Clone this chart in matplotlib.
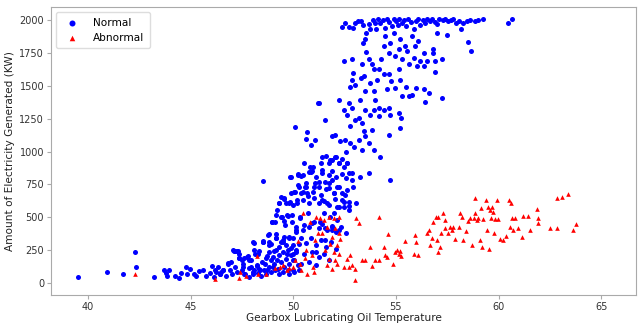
import numpy as np
import matplotlib
matplotlib.use("Agg")
import matplotlib.pyplot as plt

# Normal readings: gearbox oil temperature / generated power
normal_temp = [
    39.53, 40.95, 41.7, 42.27, 42.36, 43.22, 43.69, 43.8, 43.85, 43.95,
    44.22, 44.43, 44.53, 44.76, 44.82, 44.95, 45.15, 45.27, 45.4, 45.6,
    45.73, 45.92, 46.02, 46.12, 46.21, 46.31, 46.41, 46.5, 46.6, 46.7,
    46.8, 46.93, 47.0, 47.09, 47.18, 47.28, 47.28, 47.38, 47.48, 47.57,
    47.67, 47.73, 47.83, 47.93, 48.03, 48.1, 48.16, 48.22, 48.32, 48.38,
    48.51, 48.54, 48.61, 48.7, 48.74, 48.8, 48.83, 48.9, 48.96, 48.99,
    49.06, 49.13, 49.16, 49.19, 49.22, 49.29, 49.32, 49.38, 49.45, 49.48,
    49.55, 49.6, 49.64, 49.68, 49.71, 49.81, 49.84, 49.87, 49.9, 49.94,
    50.0, 50.06, 50.1, 50.13, 50.16, 50.23, 50.26, 50.29, 50.32, 50.39,
    50.45, 50.49, 50.52, 50.55, 50.62, 50.65, 50.68, 50.71, 50.74, 50.81,
    50.84, 50.87, 50.9, 50.97, 51.0, 51.07, 51.1, 51.2, 51.23,
    # dense low cluster
    47.14, 47.3, 46.81, 46.97, 47.35, 47.51, 47.57, 47.78, 47.86, 47.94,
    48.1, 48.22, 48.35, 48.48, 48.59, 48.67, 48.8, 48.83, 48.99, 49.08,
    49.16, 49.24, 49.32, 49.4, 49.48, 49.56, 49.64, 49.72, 49.8, 49.89,
    49.97, 50.05, 50.13, 50.21, 49.16, 49.4, 49.64, 49.89, 48.83, 48.51,
    49.56, 50.0, 50.13, 48.1, 48.27, 46.25, 46.41, 46.57, 47.62, 47.86,
    48.03, 48.27, 48.43, 48.67, 48.92, 49.13, 49.32, 49.51, 49.72, 49.8,
    50.05, 50.26,
    # rising band
    51.58, 49.84, 50.21, 50.37, 50.64, 50.77, 50.93, 51.06, 51.13, 51.34,
    51.42, 51.74, 51.9, 52.07, 52.23, 52.39, 52.55, 52.63, 51.74, 51.9,
    52.07, 52.36, 52.55, 52.71, 52.84, 50.05, 50.21, 50.45, 50.61, 50.97,
    51.23, 51.34, 51.58, 51.74, 51.99, 52.15, 52.39, 52.63, 52.9, 49.32,
    49.56, 49.8, 49.97, 50.16, 50.45, 50.77, 51.02, 51.26, 51.5, 51.74,
    52.04, 52.23, 52.47, 52.71, 53.04, 48.96, 49.16, 49.4, 49.56, 49.72,
    49.93, 50.13, 50.32, 50.53, 50.77, 51.02, 51.23, 51.42, 51.66, 51.87,
    52.1, 52.31, 52.55, 48.02, 48.51, 48.75, 48.91, 49.16, 49.48, 49.77,
    49.97, 50.37, 50.61, 50.85, 51.1, 51.34, 51.58, 51.82, 52.07, 50.13,
    50.53, 50.93, 51.26, 51.5, 51.74, 50.77, 51.1, 50.37, 49.97, 47.08,
    47.38, 47.62,
    # top row near rated power
    52.37, 52.54, 52.7, 52.89, 53.02, 53.15, 53.31, 53.38, 53.54, 53.67,
    53.75, 53.87, 53.96, 54.03, 54.12, 54.24, 54.35, 54.45, 54.56, 54.68,
    54.81, 54.89, 55.0, 55.1, 55.16, 55.29, 55.37, 55.49, 55.58, 55.75,
    55.86, 55.97, 56.1, 56.18, 56.3, 56.43, 56.52, 56.67, 56.78, 56.91,
    56.99, 57.11, 57.27, 57.4, 57.56, 57.69, 57.8, 57.92, 58.05, 58.18,
    58.29, 58.45, 58.61, 58.86, 59.02, 59.26, 60.45, 60.67, 58.5, 58.66,
    57.5,
    # upper band
    52.46, 52.86, 52.89, 53.38, 53.51, 53.54, 53.67, 53.83, 53.91, 53.35,
    53.43, 53.0, 52.78, 52.86, 53.31, 53.51, 53.75, 53.91, 54.08, 54.16,
    54.29, 54.4, 54.48, 54.65, 54.73, 54.89, 54.97, 55.13, 55.21, 55.32,
    55.42, 55.53, 55.62, 55.78, 55.86, 55.94, 56.02, 56.1, 56.18, 56.35,
    56.39, 56.51, 56.83, 56.88, 56.91, 57.23, 56.99, 56.83, 55.13, 54.78,
    54.56, 54.94, 55.21, 55.49, 55.78, 55.97, 56.39, 56.59, 56.43, 57.23,
    55.62, 55.29, 54.68, 54.4,
    # middle band
    52.21, 52.46, 52.7, 52.62, 52.86, 53.02, 52.78, 53.18, 53.35, 53.26,
    53.51, 53.75, 53.91, 54.0, 54.16, 54.4, 54.65, 54.73, 55.13, 55.26,
    55.21, 54.16, 53.83, 53.43, 51.89, 52.05, 52.29, 52.54, 52.78, 52.94,
    53.18, 53.35, 53.51, 53.67, 53.91, 54.24, 54.65, 52.05, 51.81, 52.21,
    52.46, 52.62, 52.86, 53.26, 53.67, 54.73, 51.56, 51.4, 51.24,
    # lower band
    51.4, 51.56, 51.89, 51.73, 51.97, 52.21, 52.37, 52.54, 52.7, 52.45,
    52.7, 51.4, 51.65, 51.48, 51.81, 51.97, 52.13, 51.89, 52.21, 51.56,
    51.32, 51.56, 51.89, 52.13,
]
normal_power = [
    46, 84, 66, 234, 122, 48, 97, 76, 56, 102,
    51, 36, 76, 122, 66, 107, 71, 51, 89, 97,
    56, 76, 127, 46, 97, 122, 66, 84, 102, 51,
    148, 97, 66, 244, 122, 244, 84, 193, 102, 148,
    66, 198, 117, 173, 84, 305, 224, 132, 244, 102,
    779, 313, 148, 204, 97, 376, 287, 173, 466, 122,
    244, 466, 376, 555, 173, 611, 275, 651, 499, 326,
    641, 440, 606, 224, 517, 346, 618, 682, 809, 517,
    224, 694, 1186, 402, 606, 821, 300, 733, 504, 682,
    821, 402, 916, 733, 1099, 1145, 687, 530, 661, 885,
    1048, 847, 453, 885, 733, 1084, 234, 1366, 768,
    245, 240, 153, 161, 194, 173, 122, 204, 178, 122,
    97, 135, 110, 161, 97, 194, 237, 122, 199, 148,
    250, 110, 212, 161, 237, 122, 186, 250, 148, 212,
    97, 173, 237, 135, 339, 313, 288, 270, 313, 313,
    351, 339, 389, 250, 224, 84, 67, 97, 72, 46,
    67, 77, 51, 67, 84, 97, 67, 84, 102, 72,
    84, 102,
    967, 809, 829, 814, 758, 847, 855, 763, 809, 916,
    860, 911, 936, 957, 911, 941, 1000, 911, 822, 855,
    804, 829, 796, 840, 784, 695, 745, 695, 733, 695,
    733, 669, 712, 758, 687, 733, 682, 707, 733, 611,
    644, 606, 593, 631, 631, 611, 644, 606, 626, 593,
    636, 580, 618, 585, 606, 466, 517, 504, 473, 509,
    466, 428, 491, 440, 423, 466, 415, 448, 402, 433,
    389, 423, 382, 313, 321, 364, 300, 339, 313, 351,
    288, 346, 305, 346, 288, 331, 275, 313, 262, 250,
    224, 237, 199, 224, 173, 161, 135, 148, 173, 250,
    224, 193,
    1949, 1980, 1949, 1939, 1980, 1995, 1990, 1960, 1904, 1970,
    1934, 2000, 1980, 1934, 2005, 1980, 2000, 1939, 2005, 1985,
    1954, 2005, 1990, 1965, 2005, 1980, 2000, 1954, 2005, 1985,
    1929, 1995, 2005, 1965, 2000, 1975, 2005, 1990, 2005, 1985,
    1967, 2005, 2000, 2005, 1990, 2000, 2005, 1980, 1995, 1934,
    1980, 1990, 2000, 1995, 2000, 2005, 1975, 2005, 1832, 1766,
    1888,
    1687, 1705, 1598, 1827, 1858, 1756, 1705, 1669, 1624, 1669,
    1573, 1502, 1491, 1547, 1558, 1458, 1522, 1458, 1547, 1624,
    1700, 1802, 1878, 1751, 1827, 1904, 1725, 1776, 1853, 1700,
    1802, 1764, 1662, 1878, 1713, 1802, 1649, 1840, 1687, 1751,
    1649, 1687, 1751, 1687, 1603, 1700, 1904, 1776, 1624, 1535,
    1476, 1484, 1547, 1491, 1433, 1484, 1476, 1446, 1374, 1407,
    1420, 1420, 1586, 1586,
    1395, 1318, 1369, 1280, 1331, 1242, 1191, 1255, 1217, 1395,
    1318, 1280, 1318, 1395, 1331, 1318, 1331, 1280, 1293, 1255,
    1178, 1267, 1166, 1153, 1115, 1127, 1077, 1089, 1064, 1038,
    1089, 1013, 1115, 1064, 1013, 962, 1127, 962, 937, 911,
    886, 911, 835, 809, 835, 784, 1242, 962, 1369,
    835, 771, 784, 720, 682, 733, 631, 669, 618, 580,
    555, 631, 606, 529, 504, 529, 478, 428, 402, 415,
    466, 326, 402, 580,
]

# Abnormal readings
abnormal_temp = [
    42.31, 46.2, 47.38, 47.41, 47.69, 48.25, 48.3, 48.67, 49.11, 49.35,
    49.48, 49.68, 49.81, 49.97, 50.08, 50.24, 50.32, 50.4, 50.49, 50.57,
    50.62, 50.68, 50.81, 50.89, 50.97, 51.0, 51.04, 51.13, 51.2,
    51.32, 51.48, 51.73, 51.97, 52.21, 51.65, 52.05, 51.4, 51.89, 52.29,
    52.21, 51.81, 52.13, 51.56, 51.97, 52.21, 51.73, 52.05, 51.65, 51.89,
    52.13, 52.46, 52.7, 52.86, 52.62, 52.78, 53.02, 52.99, 53.07, 53.18,
    53.35, 53.51, 53.75, 53.83, 53.99, 54.2, 54.2, 54.4, 54.48, 54.56,
    54.61, 54.84, 54.97, 55.05, 55.13, 55.21, 55.26, 55.42, 55.94, 55.97,
    55.86, 56.07, 56.51, 56.59, 56.64, 56.75, 56.83, 56.94, 56.99, 57.04,
    57.07, 57.15, 57.2, 57.27, 57.37, 57.4, 57.56, 57.64, 57.72, 57.8,
    57.88, 58.05, 58.13, 58.21, 58.29, 58.4, 58.5, 58.61, 58.73, 58.78,
    58.83, 58.86, 58.94, 59.02, 59.1, 59.15, 59.18, 59.26, 59.38, 59.42,
    59.5, 59.54, 59.59, 59.64, 59.67, 59.75, 59.8, 59.83, 59.91, 59.99,
    60.07, 60.23, 60.35, 60.52, 60.56, 60.61, 60.64, 60.72, 60.8, 60.93,
    61.13, 61.2, 61.44, 61.53, 61.86, 61.9, 61.94, 62.5, 62.83, 62.83,
    63.1, 63.36, 63.64, 63.75,
]
abnormal_power = [
    66, 33, 41, 84, 51, 204, 71, 71, 117, 122,
    135, 97, 117, 122, 178, 318, 148, 97, 529, 193,
    254, 71, 466, 211, 122, 84, 326, 504, 377,
    491, 478, 504, 491, 504, 428, 415, 377, 351, 338,
    377, 300, 288, 249, 237, 224, 186, 173, 135, 109,
    148, 122, 122, 135, 186, 211, 109, 20, 491, 458,
    178, 173, 275, 127, 173, 173, 499, 275, 211, 198,
    372, 143, 237, 249, 224, 244, 204, 321, 369, 313,
    219, 211, 377, 402, 288, 346, 466, 504, 326, 499,
    237, 275, 377, 529, 478, 415, 377, 428, 402, 428,
    338, 428, 534, 504, 326, 397, 473, 491, 288, 491,
    529, 646, 478, 491, 326, 568, 275, 484, 631, 402,
    580, 262, 555, 491, 575, 542, 377, 484, 631, 484,
    338, 326, 356, 631, 428, 611, 491, 402, 491, 415,
    351, 509, 509, 402, 560, 491, 453, 422, 644, 415,
    657, 677, 407, 448,
]

fig = plt.figure(figsize=(6.38, 3.23), dpi=100)
ax = fig.add_axes([0.08, 0.087, 0.917, 0.891])

ax.scatter(normal_temp, normal_power, s=13, c='blue', marker='o',
           linewidths=0, label='Normal')
ax.scatter(abnormal_temp, abnormal_power, s=11, c='red', marker='^',
           linewidths=0, label='Abnormal')

ax.set_xlim(38.2, 66.7)
ax.set_ylim(-90, 2098)
ax.set_xticks([40, 45, 50, 55, 60, 65])
ax.set_yticks(np.arange(0, 2001, 250))

for sp in ax.spines.values():
    sp.set_color('#aaaaaa')
ax.tick_params(colors='#aaaaaa', labelcolor='#333333', labelsize=7, length=3, pad=2)

ax.set_xlabel('Gearbox Lubricating Oil Temperature', fontsize=7.6, color='#222222', labelpad=1)
ax.set_ylabel('Amount of Electricity Generated (KW)', fontsize=7.6, color='#222222', labelpad=3)

leg = ax.legend(loc='upper left', fontsize=7.6, markerscale=1.2, borderpad=0.5,
                handletextpad=1.0, framealpha=1.0)
leg.get_frame().set_edgecolor('#dddddd')

fig.savefig('out.png', dpi=100)
